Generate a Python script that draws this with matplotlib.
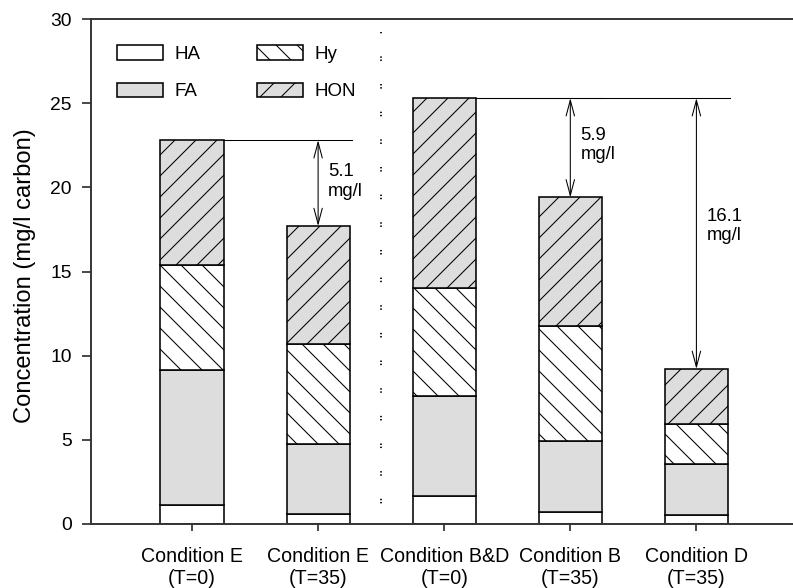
import numpy as np
import matplotlib
matplotlib.use("Agg")
import matplotlib.pyplot as plt

# data (mg/l carbon), stacked bottom to top: HA, FA, Hy, HON
conditions = ["Condition E\n(T=0)", "Condition E\n(T=35)", "Condition B&D\n(T=0)",
              "Condition B\n(T=35)", "Condition D\n(T=35)"]
HA = [1.13, 0.61, 1.68, 0.69, 0.55]
FA = [8.02, 4.14, 5.91, 4.24, 3.03]
Hy = [6.22, 5.96, 6.45, 6.83, 2.36]
HON = [7.43, 6.99, 11.26, 7.64, 3.27]

# differences annotated (start bar, end bar, label)
diffs = [(0, 1, "5.1\nmg/l"), (2, 3, "5.9\nmg/l"), (2, 4, "16.1\nmg/l")]
label_y = [21.45, 23.6, 18.8]   # where the annotation text sits

# dpi chosen so the hatch spacing matches the original
DPI = 126
plt.rcParams["font.family"] = ["Liberation Sans", "DejaVu Sans"]
plt.rcParams["hatch.linewidth"] = 0.6

gray = "#dddddd"
x_pos = np.arange(1, len(conditions) + 1)
width = 0.5

fig = plt.figure(figsize=(793 / DPI, 588 / DPI), dpi=DPI)
ax = fig.add_axes([91 / 793, 64 / 588, 702 / 793, 505 / 588])

bottom = np.zeros(len(x_pos))
styles = [("HA", HA, "white", None), ("FA", FA, gray, None),
          ("Hy", Hy, "white", "\\\\"), ("HON", HON, gray, "//")]
handles = {}
for name, vals, color, hatch in styles:
    b = ax.bar(x_pos, vals, width, bottom=bottom, color=color, edgecolor="black",
               linewidth=0.9, hatch=hatch, label=name, zorder=2)
    handles[name] = b
    bottom += np.array(vals)
totals = bottom

# horizontal reference lines + arrows
for i, j, txt in diffs:
    top = totals[i]
    ax.plot([x_pos[i] + width / 2, x_pos[j] + 0.27], [top, top], color="black", lw=0.6, zorder=3)
for (i, j, txt), ty in zip(diffs, label_y):
    ax.annotate("", xy=(x_pos[j], totals[j]), xytext=(x_pos[j], totals[i]),
                arrowprops=dict(arrowstyle="<->,head_length=0.45,head_width=0.12",
                                mutation_scale=20, lw=0.6, color="black",
                                shrinkA=0, shrinkB=0), zorder=3)
    ax.text(x_pos[j] + 0.08, ty, txt, ha="left", va="top", fontsize=10.6)

# dotted separator between the two experiments
ax.plot([2.5, 2.5], [-0.4, 29.2], color="black", lw=1.0,
        linestyle=(0, (0.8, 1.0, 0.8, 13.2)), zorder=1)

ax.set_xlim(0.199, 5.766)
ax.set_ylim(0, 30)
ax.set_yticks(range(0, 31, 5))
ax.set_xticks(x_pos)
ax.set_xticklabels(conditions, fontsize=11.2, multialignment="center")
ax.tick_params(axis="y", labelsize=11, length=5, width=1, pad=6, color="#333333")
ax.tick_params(axis="x", length=3.8, width=1, pad=9.3, color="#333333")
ax.set_ylabel("Concentration (mg/l carbon)", fontsize=13.6)
ax.yaxis.set_label_coords(-0.078, 0.491)

for s in ["left", "bottom", "top"]:
    ax.spines[s].set_linewidth(1.1)
    ax.spines[s].set_color("#333333")
ax.spines["right"].set_visible(False)

order = ["HA", "FA", "Hy", "HON"]
ax.legend([handles[k] for k in order], order, ncol=2, loc="upper left",
          bbox_to_anchor=(0.0366, 0.948), frameon=False, fontsize=10.7,
          handlelength=2.46, handleheight=0.8, handletextpad=0.64,
          columnspacing=3.0, labelspacing=1.05, borderpad=0, borderaxespad=0)

fig.savefig("out.png", dpi=DPI)
